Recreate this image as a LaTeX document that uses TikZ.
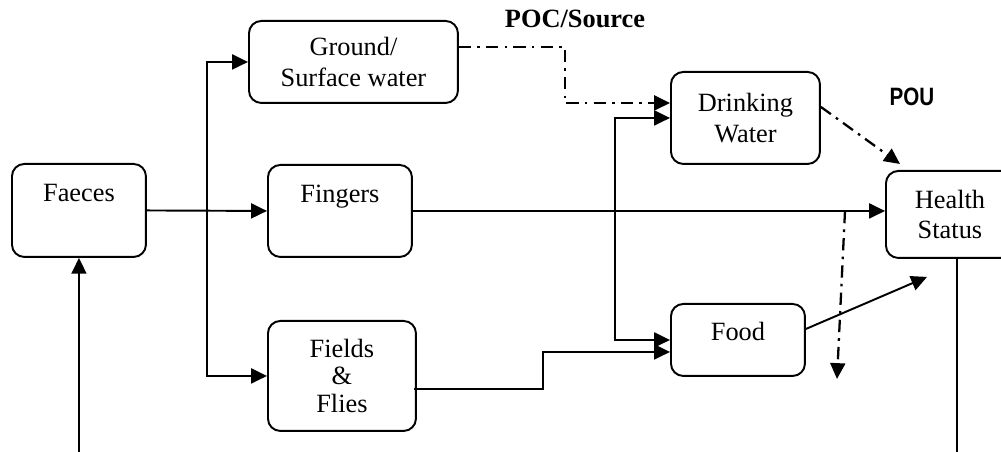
\documentclass[tikz,border=0pt]{standalone}
\usepackage{fontspec}
\setmainfont{Liberation Serif}
\newfontfamily\sansfam{Liberation Sans}
\usepackage{tikz}
\usetikzlibrary{positioning,arrows.meta,calc}

\tikzset{
	box/.style={draw, line width=1.1pt, rounded corners=7pt, align=center, anchor=north west,
		font={\fontsize{15}{17.5}\selectfont}},
	link/.style={line width=1.1pt, -{Triangle[length=9pt,width=8.5pt]}},
	dashdot/.style={link, line width=1.3pt, dash pattern=on 7pt off 3.5pt on 1.5pt off 3.5pt},
}

\begin{document}
\begin{tikzpicture}[x=0.02cm, y=-0.02cm]
		\useasboundingbox (0,0) rectangle (1001,452);

		% 方框
		\node[box, minimum width=2.68cm, minimum height=1.86cm, text height=10pt, text depth=20pt] (faeces) at (11,163) {Faeces};
		\node[box, minimum width=4.18cm, minimum height=1.64cm] (ground) at (248,20) {Ground/\\Surface water};
		\node[box, minimum width=2.88cm, minimum height=1.84cm, text height=10pt, text depth=20pt] (fingers) at (267,164) {Fingers};
		\node[box, minimum width=2.96cm, minimum height=2.2cm, font={\fontsize{15}{15.5}\selectfont}] (fields) at (267,320) {Fields\\\&\\Flies};
		\node[box, minimum width=2.98cm, minimum height=1.84cm] (drinking) at (670,71) {Drinking\\Water};
		\node[box, minimum width=2.68cm, minimum height=1.44cm, text height=10pt, text depth=9pt] (food) at (670,303) {Food};
		\node[box, minimum width=2.56cm, minimum height=1.74cm] (health) at (885,170) {Health\\Status};

		% 标注
		\node[font={\fontsize{15}{18}\selectfont\bfseries}] (poc) at (575,19) {POC/Source};
		\node[font={\sansfam\bfseries\fontsize{14.3}{17}\selectfont}] (pou) at (912,97) {\scalebox{0.82}[1]{POU}};

		% 实线
		\coordinate (split) at ($(faeces.east)!0.5!(fingers.west)$);
		\draw[link] (faeces.east) -- (fingers.west);
		\draw[link] (split) |- (ground.west);
		\draw[link] (split) |- (fields.west);
		\draw[link] (fingers.east) -- (fingers.east -| health.west);
		\draw[link] ($(fields.east)+(-3,13)$) -- ++(129,0) |- ($(food.west)+(0,12)$);
		\coordinate (fork) at ($(drinking.west)!0.5!(food.west)+(-55,0)$);
		\draw[link] (fork) |- (drinking.west);
		\draw[link] (fork) |- (food.west);
		\draw[link] ($(food.east)+(0,-11)$) -- ($(health.south west)+(42,18)$);
		\path (faeces.south) ++(0,196) coordinate (feedin);
		\draw[link] (feedin) -- (faeces.south);
		\draw[line width=1.1pt] ($(health.south)+(7,0)$) -- ++(0,195);

		% 点划线
		\draw[dashdot] ($(ground.east)+(0,-15)$) -- ++(106,0) |- ($(drinking.west)+(0,-15)$);
		\draw[dashdot] ($(drinking.east)+(0,-11)$) -- ($(health.north west)+(15,-6)$);
		\coordinate (tap) at ($(fingers.east -| health.west)+(-40,0)$);
		\draw[dashdot] (tap) -- ++(-8,168);
	\end{tikzpicture}
\end{document}
